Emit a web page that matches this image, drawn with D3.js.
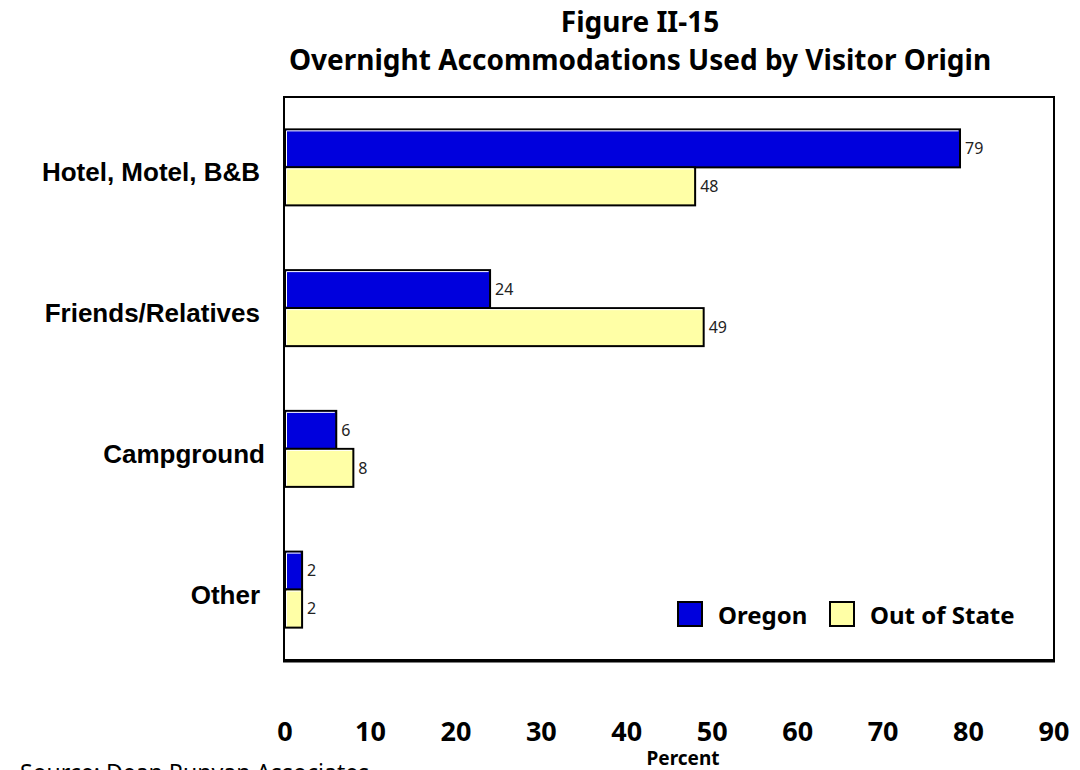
<!DOCTYPE html>
<html>
<head>
  <title>Figure II-15</title>
  <style>
    body { margin: 0; background: #fff; }
    svg { display: block; }
    .title { font-family: "Noto Sans", sans-serif; font-weight: 700; font-size: 28px; }
    .cat { font-family: "Liberation Sans", Arial, sans-serif; font-weight: 700; font-size: 26px; }
    .tick { font-family: "Noto Sans", sans-serif; font-weight: 700; font-size: 27px; }
    .val { font-family: "Noto Sans", sans-serif; font-size: 16px; fill: #222; }
    .leg { font-family: "Noto Sans", sans-serif; font-weight: 700; font-size: 24px; }
  </style>
</head>
<body>
<svg width="1080" height="770"></svg>
<script src="https://d3js.org/d3.v7.min.js"></script>
<script>

  var categories = ["Hotel, Motel, B&B", "Friends/Relatives", "Campground", "Other"]
  var seriesNames = ["Oregon", "Out of State"]
  var oregon = [79, 24, 6, 2]
  var outOfState = [48, 49, 8, 2]
  var xTicks = [0, 10, 20, 30, 40, 50, 60, 70, 80, 90]
  var colors = ["#0000dd", "#ffffa6"]

  var svg = d3.select("svg"),
    pLeft = 285, pRight = 1054, pTop = 97, pBottom = 660

  var x = d3.scaleLinear().domain([0, 90]).range([pLeft, pRight])
  var y = d3.scaleBand().domain(categories).range([pTop, pBottom]).paddingInner(0.46).paddingOuter(0.23)
  var sub = d3.scaleBand().domain(seriesNames).range([0, y.bandwidth()]).padding(0)

  // titles
  svg.append("text").attr("class", "title").attr("x", 640).attr("y", 32)
    .attr("text-anchor", "middle").text("Figure II-15")
  svg.append("text").attr("class", "title").attr("x", 640).attr("y", 70)
    .attr("text-anchor", "middle").text("Overnight Accommodations Used by Visitor Origin")

  // frame
  svg.append("rect").attr("x", pLeft - 1).attr("y", pTop).attr("width", pRight - pLeft + 1).attr("height", pBottom - pTop)
    .attr("fill", "none").attr("stroke", "#000").attr("stroke-width", 2)
  svg.append("line").attr("x1", pLeft - 2).attr("x2", pRight + 1).attr("y1", pBottom + 1).attr("y2", pBottom + 1)
    .attr("stroke", "#000").attr("stroke-width", 3)

  var rows = []
  categories.forEach(function (c, i) {
    rows.push({cat: c, s: seriesNames[0], v: oregon[i], col: colors[0]})
    rows.push({cat: c, s: seriesNames[1], v: outOfState[i], col: colors[1]})
  })

  var bars = svg.append("g").selectAll("g").data(rows).enter().append("g")

  bars.append("rect")
    .attr("x", x(0))
    .attr("y", function (d) { return y(d.cat) + sub(d.s) })
    .attr("width", function (d) { return x(d.v) - x(0) })
    .attr("height", sub.bandwidth())
    .attr("fill", function (d) { return d.col })
    .attr("stroke", "#000")
    .attr("stroke-width", 2)

  // white highlight inside the bar edge
  bars.append("path")
    .attr("d", function (d) {
      var x0 = x(0) + 1.5, y0 = y(d.cat) + sub(d.s) + 1.5
      return "M" + x0 + "," + (y0 + sub.bandwidth() - 3) + "V" + y0 + "H" + (x(d.v) - 1.5)
    })
    .attr("fill", "none").attr("stroke", "#fff").attr("stroke-width", 1)

  bars.append("text").attr("class", "val")
    .attr("x", function (d) { return x(d.v) + 5 })
    .attr("y", function (d) { return y(d.cat) + sub(d.s) + sub.bandwidth() / 2 })
    .attr("dy", "0.36em")
    .text(function (d) { return d.v })

  // category labels
  svg.append("g").selectAll("text").data(categories).enter().append("text")
    .attr("class", "cat")
    .attr("x", function (d, i) { return i == 2 ? 265 : 260 })
    .attr("y", function (d) { return y(d) + y.bandwidth() / 2 + 14 })
    .attr("text-anchor", "end")
    .text(function (d) { return d })

  // x ticks
  svg.append("g").selectAll("text").data(xTicks).enter().append("text")
    .attr("class", "tick")
    .attr("x", function (d) { return x(d) })
    .attr("y", 741)
    .attr("text-anchor", "middle")
    .text(function (d) { return d })

  svg.append("text").attr("class", "leg").attr("x", 683).attr("y", 765)
    .attr("text-anchor", "middle").style("font-size", "19px").text("Percent")

  svg.append("text").attr("x", 20).attr("y", 781)
    .style("font-family", "Noto Sans, sans-serif").style("font-size", "23px")
    .text("Source:  Dean Runyan Associates")

  // legend
  var leg = svg.append("g").selectAll("g").data(seriesNames).enter().append("g")
    .attr("transform", function (d, i) { return "translate(" + [678, 830][i] + ",602)" })
  leg.append("rect").attr("width", 24).attr("height", 24)
    .attr("fill", function (d, i) { return colors[i] }).attr("stroke", "#000").attr("stroke-width", 2)
  leg.append("text").attr("class", "leg").attr("x", 40).attr("y", 22).text(function (d) { return d })

</script>
</body>
</html>
